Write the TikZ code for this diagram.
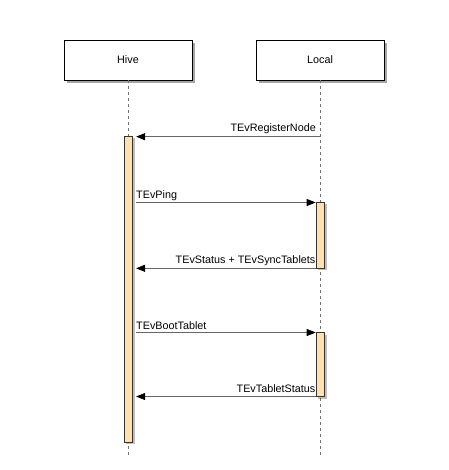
\documentclass[tikz,border=0pt]{standalone}
\usepackage{fontspec}
\setmainfont{Liberation Sans}
\usetikzlibrary{arrows.meta,shadows}
\begin{document}
\begin{tikzpicture}[x=1pt,y=1pt,
  font=\fontsize{10.8}{12}\selectfont,
  actor/.style={draw=black,line width=0.8pt,fill=white,minimum width=128pt,minimum height=40pt,inner sep=0pt,
    drop shadow={shadow xshift=3pt,shadow yshift=-3pt,fill=black,opacity=0.35}},
  actbar/.style={draw=black!80,line width=0.7pt,fill=actfill,minimum width=8.5pt,inner sep=0pt,
    drop shadow={shadow xshift=2pt,shadow yshift=-2pt,fill=black,opacity=0.25}},
  life/.style={draw=black!55,dash pattern=on 3pt off 3pt,line width=0.7pt},
  msg/.style={draw=black!60,line width=0.7pt,-{Triangle[length=9pt,width=7pt,color=black,fill=black]}},
  lbl/.style={inner sep=0pt,text=black}]
\definecolor{actfill}{HTML}{FFE1B0}
\useasboundingbox (0,0) rectangle (448,-470);
\node[actor] (hive) at (128,-60) {Hive};
\node[actor] (local) at (320,-60) {Local};
\coordinate (hend) at (128,-456);
\coordinate (lend) at (320,-456);
\draw[life] (hive.south) -- (hend);
\draw[life] (local.south) -- (lend);
\node[actbar,minimum height=306pt] (hb) at (128.5,-289) {};
\node[actbar,minimum height=66pt] (lb1) at (320.3,-235.3) {};
\node[actbar,minimum height=64pt] (lb2) at (320.3,-364.5) {};
% messages
\coordinate (m1) at (320,-136.7);
\draw[msg,shorten >=3pt] (m1) -- (hb.east |- m1);
\node[lbl,anchor=base east] (t1) at (316,-131.5) {TEvRegisterNode};
\coordinate (m2) at (136,-202.5);
\draw[msg] (m2) -- (lb1.west |- m2);
\node[lbl,anchor=base west] (t2) at (136,-198.3) {TEvPing};
\coordinate (m3) at (316,-268.3);
\draw[msg,shorten >=3pt] (lb1.west |- m3) -- (hb.east |- m3);
\node[lbl,anchor=base east] (t3) at (315.5,-263.5) {TEvStatus + TEvSyncTablets};
\coordinate (m4) at (136,-332.5);
\draw[msg] (m4) -- (lb2.west |- m4);
\node[lbl,anchor=base west] (t4) at (136,-329.5) {TEvBootTablet};
\coordinate (m5) at (316,-396.5);
\draw[msg,shorten >=3pt] (lb2.west |- m5) -- (hb.east |- m5);
\node[lbl,anchor=base east] (t5) at (315.5,-392.8) {TEvTabletStatus};
\end{tikzpicture}
\end{document}
